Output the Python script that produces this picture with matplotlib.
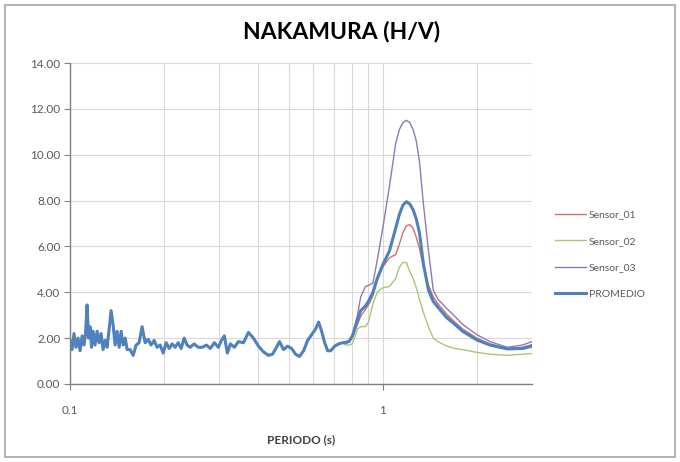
import numpy as np
import matplotlib
matplotlib.use('Agg')
import matplotlib.pyplot as plt
from matplotlib.patches import Rectangle
from matplotlib.ticker import FixedLocator, NullFormatter, LogLocator

plt.rcParams['font.family'] = ['Lato', 'DejaVu Sans']

# short periods: all three sensors and the average sit on top of each other
periodo_bajo = [0.1000, 0.1015, 0.1030, 0.1045, 0.1061, 0.1077, 0.1093, 0.1109, 0.1121, 0.1134,
                0.1146, 0.1159, 0.1172, 0.1185, 0.1203, 0.1221, 0.1239, 0.1257, 0.1276, 0.1295,
                0.1314, 0.1334, 0.1353, 0.1373, 0.1394, 0.1414, 0.1436, 0.1457, 0.1479, 0.1501,
                0.1523, 0.1557, 0.1592, 0.1627, 0.1663, 0.1700, 0.1739, 0.1778, 0.1817, 0.1858,
                0.1899, 0.1942, 0.1985, 0.2030, 0.2075, 0.2121, 0.2169, 0.2217, 0.2267, 0.2317,
                0.2369, 0.2422, 0.2494, 0.2572, 0.2650, 0.2728, 0.2810, 0.2895, 0.2980, 0.3050,
                0.3115, 0.3185, 0.3257, 0.3355, 0.3455, 0.3585, 0.3720, 0.3860, 0.4005, 0.4155,
                0.4311, 0.4441, 0.4574, 0.4676, 0.4816, 0.4960, 0.5109, 0.5262, 0.5420, 0.5582,
                0.5749, 0.5922, 0.6099, 0.6236, 0.6376, 0.6519, 0.6666, 0.6815, 0.7019, 0.7230,
                0.7447]
hv_bajo = [1.9, 1.5, 2.2, 1.6, 2.0, 1.45, 2.1, 1.7, 2.2, 3.45,
           2.0, 2.5, 1.6, 2.3, 1.7, 2.3, 1.8, 2.2, 1.5, 1.9,
           1.6, 2.4, 3.2, 2.6, 1.7, 2.3, 1.6, 2.3, 1.7, 2.0,
           1.5, 1.5, 1.25, 1.7, 1.8, 2.5, 1.8, 1.95, 1.7, 1.9,
           1.6, 1.7, 1.35, 1.8, 1.55, 1.75, 1.6, 1.8, 1.55, 2.0,
           1.7, 1.6, 1.75, 1.6, 1.6, 1.7, 1.55, 1.8, 1.6, 1.9,
           2.1, 1.35, 1.75, 1.6, 1.85, 1.8, 2.25, 2.0, 1.65, 1.4,
           1.25, 1.3, 1.6, 1.85, 1.5, 1.65, 1.55, 1.3, 1.2, 1.45,
           1.9, 2.15, 2.4, 2.7, 2.3, 1.8, 1.45, 1.45, 1.65, 1.75,
           1.8]

# longer periods: the curves separate around the peak
periodo_alto = [0.76, 0.78, 0.80, 0.83, 0.85, 0.88, 0.90, 0.93, 0.96, 1.00,
                1.05, 1.10, 1.13, 1.16, 1.19, 1.22, 1.25, 1.28, 1.31, 1.35,
                1.40, 1.45, 1.50, 1.60, 1.70, 1.80, 2.00, 2.20, 2.50, 2.80,
                3.00]
sensor_01 = [1.8, 1.85, 2.05, 2.6, 2.95, 3.25, 3.45, 3.85, 4.5, 5.1,
             5.5, 5.65, 6.1, 6.6, 6.9, 6.95, 6.8, 6.4, 5.9, 5.1,
             4.3, 3.8, 3.5, 3.05, 2.7, 2.4, 2.0, 1.75, 1.55, 1.6,
             1.72]
sensor_02 = [1.7, 1.7, 1.75, 2.4, 2.5, 2.5, 2.7, 3.5, 4.0, 4.2,
             4.25, 4.6, 5.1, 5.3, 5.3, 4.9, 4.6, 4.2, 3.7, 3.1,
             2.5, 2.0, 1.85, 1.65, 1.55, 1.5, 1.38, 1.3, 1.25, 1.3,
             1.33]
sensor_03 = [1.85, 1.9, 2.1, 3.0, 3.8, 4.25, 4.3, 4.4, 5.4, 6.8,
             8.6, 10.5, 11.1, 11.4, 11.5, 11.4, 11.1, 10.6, 9.7, 7.8,
             5.8, 4.1, 3.7, 3.3, 2.95, 2.6, 2.15, 1.85, 1.6, 1.7,
             1.85]
promedio = [1.8, 1.85, 2.1, 2.8, 3.2, 3.4, 3.6, 4.0, 4.6, 5.2,
            5.8, 6.8, 7.4, 7.8, 7.95, 7.85, 7.6, 7.2, 6.6, 5.2,
            4.1, 3.6, 3.35, 2.9, 2.6, 2.3, 1.92, 1.7, 1.53, 1.55,
            1.65]

series = [('Sensor_01', sensor_01, '#D0706C', 1.0),
          ('Sensor_02', sensor_02, '#A9C774', 1.0),
          ('Sensor_03', sensor_03, '#9179B3', 1.0),
          ('PROMEDIO', promedio, '#4F81BD', 2.2)]

fig = plt.figure(figsize=(6.8, 4.62), dpi=100)
ax = fig.add_axes([70/680, 78/462, 462/680, 321/462])

for nombre, valores, color, ancho in series:
    x = periodo_bajo + periodo_alto
    y = hv_bajo + valores
    ax.plot(x, y, color=color, lw=ancho, label=nombre, solid_joinstyle='round')

ax.set_xscale('log')
ax.set_xlim(0.1, 3.0)
ax.set_ylim(0, 14)
ax.set_yticks(np.arange(0, 15, 2))
ax.set_yticklabels(['%.2f' % v for v in np.arange(0, 15, 2)])
ax.xaxis.set_major_locator(FixedLocator([0.1, 1]))
ax.set_xticklabels(['0.1', '1'])
ax.xaxis.set_minor_locator(LogLocator(base=10, subs=np.arange(2, 10)))
ax.xaxis.set_minor_formatter(NullFormatter())

ax.grid(True, which='both', color='#D9D9D9', lw=0.8)
ax.set_axisbelow(True)
for s in ['top', 'right']:
    ax.spines[s].set_visible(False)
for s in ['left', 'bottom']:
    ax.spines[s].set_color('#808080')
    ax.spines[s].set_linewidth(1.0)
ax.tick_params(which='major', direction='out', length=4, color='#808080',
               labelsize=8.5, labelcolor='#595959', pad=3)
ax.tick_params(axis='x', which='minor', length=0)
ax.tick_params(axis='x', which='major', pad=11)

ax.set_xlabel('PERIODO (s)', fontsize=8.5, fontweight='bold', color='#404040', labelpad=13)
fig.text(342/680, 1 - 32/462, 'NAKAMURA (H/V)', fontsize=16.5, fontweight='bold',
         ha='center', va='center', color='#000000')

leg = fig.legend(loc='upper left', bbox_to_anchor=(551/680, 1 - 206/462), frameon=False,
                 fontsize=7.5, handlelength=3.0, handletextpad=0.2, labelspacing=1.65,
                 borderaxespad=0)
for t in leg.get_texts():
    t.set_color('#595959')

fig.patches.append(Rectangle((5/680, 5/462), 670/680, 452/462, transform=fig.transFigure,
                             fill=False, edgecolor='#A6A6A6', lw=1.2))

fig.savefig('out.png', dpi=100)
